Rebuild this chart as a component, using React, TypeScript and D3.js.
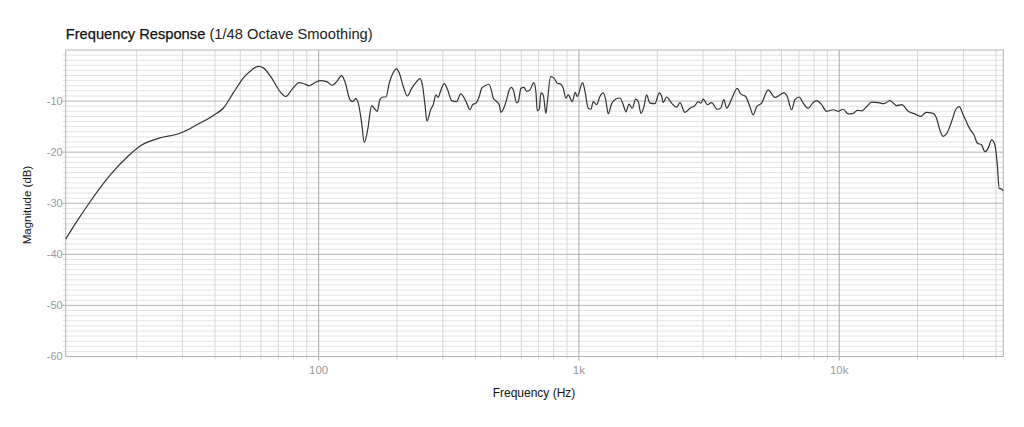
import React from "react";
import * as d3 from "d3";

const freqHz = [
  10.67, 11.76, 13.2, 15.8, 18.6, 20.9, 24.2, 29.3, 32.0, 35.0, 39.4, 43.0, 47.0, 51.3, 55.3, 58.6, 61.3, 66.0, 71.0, 74.9,
  78.8, 84.2, 87.8, 92.0, 95.9, 101.2, 107.3, 112.8, 117.3, 122.6, 126.2, 131.9, 135.1, 138.7, 142.0, 146.3, 149.7, 154.3, 159.8, 164.6,
  167.9, 172.0, 176.2, 181.4, 186.7, 193.5, 199.4, 204.0, 211.3, 219.0, 227.7, 238.0, 245.0, 250.9, 256.1, 260.7, 269.3, 275.6, 282.2, 288.0,
  292.4, 303.7, 313.0, 324.3, 339.0, 351.2, 361.6, 370.4, 381.4, 390.5, 402.1, 414.0, 422.9, 435.5, 451.1, 462.0, 468.6, 482.9, 494.1, 501.7,
  512.0, 527.5, 539.8, 551.5, 559.3, 576.4, 584.6, 598.8, 614.8, 629.7, 648.4, 671.7, 683.7, 691.6, 704.0, 714.5, 729.3, 746.8, 755.5, 778.6,
  801.7, 825.4, 852.8, 870.5, 891.6, 909.8, 942.7, 967.9, 985.1, 1033, 1055, 1086, 1112, 1135, 1170, 1204, 1240, 1267, 1296, 1335,
  1387, 1437, 1480, 1516, 1557, 1603, 1651, 1690, 1731, 1777, 1820, 1874, 1959, 2035, 2078, 2108, 2172, 2270, 2373, 2443,
  2554, 2669, 2790, 2873, 2942, 3002, 3111, 3234, 3398, 3502, 3606, 3693, 3860, 4056, 4180, 4369, 4538, 4673, 4816, 5034,
  5336, 5662, 5918, 6132, 6313, 6565, 6758, 7020, 7273, 7602, 7903, 8189, 8559, 8946, 9482, 9913, 10360, 10830, 11320, 11730,
  12190, 12740, 13320, 14120, 14850, 15660, 16620, 17370, 18420, 19540, 20550, 21590, 22960, 23670, 24370, 25090, 26040, 27030, 28070, 28910,
  29950, 31780, 32930, 33910, 35250, 36290, 37360, 38510, 39650, 40460, 41190, 42070, 42660,
];

const magDb = [
  -37.0, -33.6, -29.8, -24.5, -20.7, -18.6, -17.3, -16.3, -15.4, -14.3, -12.8, -11.4, -8.4, -5.5, -3.9, -3.2, -3.5, -5.5, -8.1, -9.1,
  -7.8, -6.4, -6.6, -7.0, -6.5, -6.0, -6.2, -6.9, -6.2, -5.0, -6.2, -9.7, -10.1, -9.5, -10.4, -14.3, -18.1, -15.6, -10.9, -11.6,
  -12.0, -9.7, -9.2, -9.2, -6.5, -4.4, -3.7, -4.5, -7.1, -9.0, -7.5, -6.2, -5.6, -7.1, -10.7, -13.9, -11.7, -10.7, -8.8, -9.3,
  -8.4, -6.6, -7.8, -9.9, -10.1, -8.6, -9.3, -10.4, -11.7, -10.7, -10.4, -9.1, -7.5, -7.0, -6.7, -8.1, -9.4, -10.1, -10.7, -12.2,
  -11.6, -9.7, -7.8, -7.3, -7.8, -10.3, -10.1, -7.5, -7.3, -8.1, -7.8, -6.4, -8.3, -11.9, -11.6, -8.4, -8.8, -12.4, -10.4, -5.2,
  -5.5, -6.5, -6.7, -7.5, -9.4, -8.8, -10.1, -8.3, -9.1, -6.4, -8.1, -11.4, -11.6, -10.1, -10.7, -9.1, -8.4, -9.7, -12.5, -10.5,
  -9.6, -9.4, -10.7, -12.1, -10.6, -11.4, -9.6, -10.1, -12.4, -11.1, -8.8, -10.4, -10.5, -8.4, -9.0, -10.3, -9.2, -10.4, -11.2, -10.3,
  -12.2, -11.4, -10.9, -10.1, -10.4, -9.6, -10.7, -10.3, -11.6, -11.4, -9.7, -11.4, -9.6, -7.5, -8.6, -9.1, -11.1, -12.7, -11.1, -10.4,
  -7.8, -9.3, -8.8, -8.4, -9.1, -11.7, -9.7, -9.2, -10.4, -11.4, -10.4, -9.9, -10.7, -12.0, -11.7, -12.0, -11.6, -12.5, -12.4, -11.8,
  -11.9, -11.1, -10.2, -10.3, -10.5, -9.9, -10.9, -10.7, -12.0, -12.5, -13.0, -12.2, -12.4, -13.4, -15.7, -16.9, -16.1, -14.0, -11.6, -11.1,
  -12.7, -15.5, -16.6, -18.2, -18.6, -19.9, -19.2, -17.6, -18.6, -22.2, -27.1, -27.2, -27.6,
];

const xTickValues = [100, 1000, 10000];
const xTickLabels = ["100", "1k", "10k"];
const yTickValues = [-60, -50, -40, -30, -20, -10];
const xDomain = [10.67, 42700];
const yDomain = [-60, 0];

const titleMain = "Frequency Response";
const titleSub = " (1/48 Octave Smoothing)";
const xTitle = "Frequency (Hz)";
const yTitle = "Magnitude (dB)";

const W = 1024;
const H = 427;
const L = 65.7, R = 1003.3, T = 50, B = 356.5;
const FONT = "'Liberation Sans', Arial, Helvetica, sans-serif";

export default function App() {
  const x = d3.scaleLog().domain(xDomain).range([L, R]);
  const y = d3.scaleLinear().domain(yDomain).range([B, T]);

  const minorX: number[] = [];
  for (let dec = 10; dec <= 10000; dec *= 10) {
    for (let m = 1; m <= 9; m++) {
      const f = dec * m;
      if (f > xDomain[0] && f < xDomain[1] && !xTickValues.includes(f)) minorX.push(f);
    }
  }
  const minorY: number[] = [];
  for (let v = -59; v < 0; v++) if (v % 10 !== 0) minorY.push(v);

  const pts: [number, number][] = freqHz.map((f, i) => [x(f), y(magDb[i])]);
  const line = d3.line().curve(d3.curveMonotoneX)(pts) || "";

  return (
    <svg width={W} height={H} style={{ position: "absolute", left: 0, top: 0, background: "#fff" }}>
      <rect x={0} y={0} width={W} height={H} fill="#fff" />
      <text x={L} y={39} fontFamily={FONT} fontSize={14.7} fill="#111">
        <tspan fontWeight={500} stroke="#111" strokeWidth={0.25}>{titleMain}</tspan>
        <tspan fill="#222">{titleSub}</tspan>
      </text>
      {minorY.map((v) => (
        <line key={"my" + v} x1={L - 3} x2={R} y1={y(v)} y2={y(v)} stroke="#e3e3e3" strokeWidth={1} />
      ))}
      {minorX.map((f) => (
        <line key={"mx" + f} x1={x(f)} x2={x(f)} y1={T} y2={B + 3} stroke="#d6d6d6" strokeWidth={1} />
      ))}
      {yTickValues.slice(1).map((v) => (
        <line key={"gy" + v} x1={L - 4} x2={R} y1={y(v)} y2={y(v)} stroke="#b4b4b4" strokeWidth={1} />
      ))}
      {xTickValues.map((f) => (
        <line key={"gx" + f} x1={x(f)} x2={x(f)} y1={T} y2={B + 4} stroke="#a8a8a8" strokeWidth={1} />
      ))}
      <rect x={L} y={T} width={R - L} height={B - T} fill="none" stroke="#b4b4b4" strokeWidth={1} />
      <path d={line} fill="none" stroke="#333" strokeWidth={1.2} strokeLinejoin="round" />
      {yTickValues.map((v) => (
        <text key={"ty" + v} x={L - 3} y={y(v)} dy="0.35em" textAnchor="end" fontFamily={FONT} fontSize={11} fill="#9a9a9a">
          {v}
        </text>
      ))}
      {xTickValues.map((f, i) => (
        <text key={"tx" + f} x={x(f)} y={374} textAnchor="middle" fontFamily={FONT} fontSize={11.5} fill="#9a9a9a">
          {xTickLabels[i]}
        </text>
      ))}
      <text x={534} y={397} textAnchor="middle" fontFamily={FONT} fontSize={12} fill="#111">
        {xTitle}
      </text>
      <text transform={`translate(31,205) rotate(-90)`} textAnchor="middle" fontFamily={FONT} fontSize={11.5} fill="#111">
        {yTitle}
      </text>
    </svg>
  );
}
